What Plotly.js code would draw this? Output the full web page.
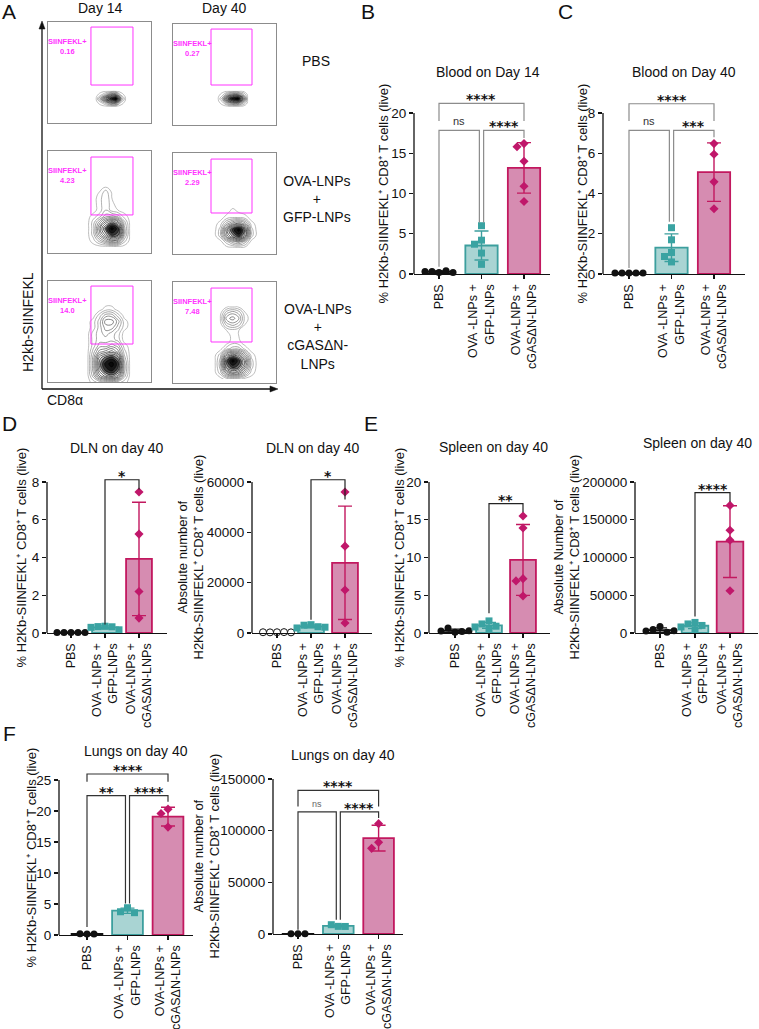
<!DOCTYPE html>
<html>
<head>
<meta charset="utf-8">
<script src="https://cdn.plot.ly/plotly-3.0.1.min.js"></script>
<style>
  html, body { margin: 0; padding: 0; background: #fff; }
  #fig { width: 759px; height: 1029px; }
</style>
</head>
<body>
<div id="fig"></div>
<script>
const W = 759, H = 1029;
const FONT = 'Liberation Sans, Arial, Helvetica, sans-serif';

// ---- panel A: flow contours (relative units 0-100, z = contour level) ----
const pbsD14X = [46, 51, 56, 61, 66, 71, 76];
const pbsD14Y = [16, 20, 24, 28, 32];
const pbsD14Z = [
  [0, 0, 0, 0, 0, 0, 0],
  [0, 1, 3, 6, 6, 1, 0],
  [0, 4, 9, 12, 14, 4, 0],
  [0, 1, 3, 6, 6, 1, 0],
  [0, 0, 0, 0, 0, 0, 0]
];
const pbsD40X = [43, 48, 53, 58, 63, 68, 73];
const pbsD40Y = [18, 22, 26, 30, 34];
const pbsD40Z = [
  [0, 0, 0, 0, 0, 0, 0],
  [0, 1, 4, 6, 6, 3, 0],
  [0, 3, 10, 13, 14, 8, 0],
  [0, 1, 4, 6, 6, 3, 0],
  [0, 0, 0, 0, 0, 0, 0]
];
const gfpD14X = [38, 44, 50, 56, 62, 68, 74, 80];
const gfpD14Y = [6, 12, 18, 24, 30, 36, 42, 48, 54, 60, 66];
const gfpD14Z = [
  [0, 0, 0, 0, 0, 0, 0, 0],
  [0, 1, 3, 5, 7, 6, 2, 0],
  [0, 2, 6, 9, 12, 11, 4, 0],
  [0, 2, 7, 11, 14, 12, 4, 0],
  [0, 2, 5, 8, 10, 8, 3, 0],
  [0, 1, 2, 4, 4, 3, 1, 0],
  [0, 0, 1, 2.5, 1, 0.5, 0, 0],
  [0, 0, 1, 2.5, 0.8, 0, 0, 0],
  [0, 0, 1, 2.5, 0.5, 0, 0, 0],
  [0, 0, 0.5, 2, 0.3, 0, 0, 0],
  [0, 0, 0, 0, 0, 0, 0, 0]
];
const gfpD40X = [40, 46, 52, 58, 64, 70, 76, 82];
const gfpD40Y = [6, 12, 18, 24, 30, 36, 42, 48];
const gfpD40Z = [
  [0, 0, 0, 0, 0, 0, 0, 0],
  [0, 0, 2, 4, 5, 3, 0, 0],
  [0, 2, 7, 10, 12, 9, 2, 0],
  [0, 2, 8, 12, 14, 10, 2, 0],
  [0, 1, 4, 6, 7, 5, 1, 0],
  [0, 0, 1, 1.5, 1.5, 1, 0, 0],
  [0, 0, 0, 1, 0.3, 0, 0, 0],
  [0, 0, 0, 0, 0, 0, 0, 0]
];
const cgasD14X = [38, 44, 50, 56, 62, 68, 74, 80];
const cgasD14Y = [0, 6, 12, 18, 24, 30, 36, 42, 48, 54, 60, 66, 72, 78];
const cgasD14Z = [
  [0, 1, 2, 3, 3, 2, 1, 0],
  [0, 3, 7, 9, 10, 8, 3, 0],
  [0, 4, 9, 12, 13, 11, 4, 0],
  [0, 4, 10, 13, 14, 12, 4, 0],
  [0, 4, 9, 11, 12, 10, 3, 0],
  [0, 3, 6, 7, 8, 6, 2, 0],
  [0, 2, 4, 4, 5, 4, 1, 0],
  [0, 2, 3, 3, 3, 2, 0, 0],
  [0, 2, 3, 4, 3, 2, 0, 0],
  [0, 1, 3, 5, 5, 3, 1, 0],
  [0, 1, 3, 6, 6, 4, 1, 0],
  [0, 0, 2, 4, 4, 2, 0, 0],
  [0, 0, 0, 1, 1, 0, 0, 0],
  [0, 0, 0, 0, 0, 0, 0, 0]
];
const cgasD40X = [40, 46, 52, 58, 64, 70, 76, 82];
const cgasD40Y = [4, 10, 16, 22, 28, 34, 40, 46, 52, 58, 64, 70, 76];
const cgasD40Z = [
  [0, 0, 1, 1, 1, 0, 0, 0],
  [0, 2, 6, 8, 7, 4, 1, 0],
  [0, 3, 10, 12, 11, 7, 2, 0],
  [0, 3, 11, 14, 12, 8, 2, 0],
  [0, 2, 7, 9, 8, 5, 1, 0],
  [0, 0, 2, 3, 3, 1, 0, 0],
  [0, 0, 0, 1.2, 0.8, 0, 0, 0],
  [0, 0, 0, 0.8, 0.5, 0, 0, 0],
  [0, 0, 0.5, 1, 0.5, 0, 0, 0],
  [0, 0, 3, 4, 3, 0.5, 0, 0],
  [0, 0.5, 5, 6, 4.5, 1, 0, 0],
  [0, 0, 3, 4, 3, 0.5, 0, 0],
  [0, 0, 0, 0.5, 0, 0, 0, 0]
];
const gatePct = ['0.16', '0.27', '4.23', '2.29', '14.0', '7.48'];

// ---- bar panels: one value per mouse ----
const grupos = ['PBS', 'OVA -LNPs +<br>GFP-LNPs', 'OVA-LNPs +<br>cGASΔN-LNPs'];

const bloodD14Pbs = [0.2, 0.3, 0.4, 0.3, 0.2];
const bloodD14Gfp = [6.0, 4.2, 3.7, 2.6, 1.2];
const bloodD14Cgas = [16.2, 15.8, 14.0, 10.9, 9.0];

const bloodD40Pbs = [0.05, 0.05, 0.05, 0.05, 0.05];
const bloodD40Gfp = [2.3, 1.7, 1.07, 0.87, 0.6];
const bloodD40Cgas = [6.48, 5.95, 4.58, 3.24];

const dlnPctPbs = [0.03, 0.03, 0.03, 0.03, 0.03];
const dlnPctGfp = [0.36, 0.34, 0.33, 0.3, 0.17];
const dlnPctCgas = [7.47, 5.24, 2.2, 0.79];

const dlnAbsPbs = [300, 250, 350, 300, 250];
const dlnAbsGfp = [3300, 3100, 2500, 2000, 2300];
const dlnAbsCgas = [56000, 34500, 17100, 4000];

const spleenPctPbs = [0.1, 0.65, 0.2, 0.25, 0.3];
const spleenPctGfp = [1.6, 1.2, 0.9, 0.8, 0.6];
const spleenPctCgas = [15.5, 13.9, 7.2, 6.9, 4.9];

const spleenAbsPbs = [8500, 4500, 1000, 2500, 3000];
const spleenAbsGfp = [14000, 12000, 10000, 8000, 4000];
const spleenAbsCgas = [169000, 136000, 123000, 56000];

const lungPctPbs = [0.15, 0.2, 0.15];
const lungPctGfp = [4.4, 3.75, 3.6];
const lungPctCgas = [20.3, 19.6, 17.4];

const lungAbsPbs = [150, 200, 150];
const lungAbsGfp = [7400, 9000, 7300];
const lungAbsCgas = [106800, 88700, 82900];

// ---- styles ----
const estilos = [
  { fill: 'rgba(255,255,255,0)', line: '#111', mk: '#111', sym: 'circle', size: 7 },
  { fill: '#a9d4d3', line: '#3c9f9e', mk: '#3aa3a2', sym: 'square', size: 7 },
  { fill: '#d68cb1', line: '#c2185f', mk: '#c0176a', sym: 'diamond', size: 7 }
];
const pctTitle = '% H2Kb-SIINFEKL⁺ CD8⁺ T cells (live)';
const absTitle = 'Absolute number of<br>H2Kb-SIINFEKL⁺ CD8⁺ T cells (live)';
const absTitleN = 'Absolute Number of<br>H2Kb-SIINFEKL⁺ CD8⁺ T cells (live)';

// layout in pixels: L/R = x axis ends, c0 = first bar centre, s = px per group,
// Y0 = px of zero, YT = px of top tick T, top = range top (room for brackets),
// ytx = x of the y title; brackets: [x0, x1, yTop, yLeg0, yLeg1, label]
const paneles = [
  { n: 7, L: 414, R: 550, c0: 439, s: 42.5, Y0: 274, YT: 113, T: 20, top: 22, ticks: [0, 5, 10, 15, 20],
    data: [bloodD14Pbs, bloodD14Gfp, bloodD14Cgas], title: 'Blood on Day 14', tx: 488, ty: 72, ytitle: pctTitle, ytx: 383,
    bcol: '#8c8c8c', brackets: [[0, 2, 21.2, 19.0, 19.0, '****'], [0, 0.95, 17.85, 0.9, 6.4, 'ns'], [1.05, 2, 17.85, 6.4, 16.9, '****']] },
  { n: 8, L: 603, R: 745, c0: 629, s: 42.5, Y0: 274, YT: 113, T: 8, top: 8.8, ticks: [0, 2, 4, 6, 8],
    data: [bloodD40Pbs, bloodD40Gfp, bloodD40Cgas], title: 'Blood on Day 40', tx: 684, ty: 72, ytitle: pctTitle, ytx: 582,
    bcol: '#8c8c8c', brackets: [[0, 2, 8.46, 7.6, 7.6, '****'], [0, 0.95, 7.14, 0.3, 2.6, 'ns'], [1.05, 2, 7.14, 2.6, 6.8, '***']] },
  { n: 9, L: 47, R: 167, c0: 71, s: 34, Y0: 633, YT: 482, T: 8, top: 8.9, ticks: [0, 2, 4, 6, 8],
    data: [dlnPctPbs, dlnPctGfp, dlnPctCgas], title: 'DLN on day 40', tx: 117, ty: 448, ytitle: pctTitle, ytx: 21,
    bcol: '#222', brackets: [[1, 2, 8.12, 0.45, 7.6, '*']] },
  { n: 10, L: 252, R: 372, c0: 277, s: 34, Y0: 633, YT: 482, T: 60000, top: 66000, ticks: [0, 20000, 40000, 60000],
    data: [dlnAbsPbs, dlnAbsGfp, dlnAbsCgas], title: 'DLN on day 40', tx: 313, ty: 448, ytitle: absTitle, ytx: 190, openPbs: true,
    bcol: '#222', brackets: [[1, 2, 60900, 5300, 53000, '*']] },
  { n: 11, L: 429, R: 550, c0: 455, s: 34, Y0: 633, YT: 482, T: 20, top: 20.5, ticks: [0, 5, 10, 15, 20],
    data: [spleenPctPbs, spleenPctGfp, spleenPctCgas], title: 'Spleen on day 40', tx: 493, ty: 447, ytitle: pctTitle, ytx: 399,
    bcol: '#222', brackets: [[1, 2, 17.14, 2.6, 16.0, '**']] },
  { n: 12, L: 635, R: 758, c0: 660, s: 35, Y0: 633, YT: 482, T: 200000, top: 205000, ticks: [0, 50000, 100000, 150000, 200000],
    data: [spleenAbsPbs, spleenAbsGfp, spleenAbsCgas], title: 'Spleen on day 40', tx: 697, ty: 443, ytitle: absTitleN, ytx: 566,
    bcol: '#222', brackets: [[1, 2, 186000, 22000, 174000, '****']] },
  { n: 13, L: 59, R: 193, c0: 87, s: 40.5, Y0: 935, YT: 780, T: 25, top: 27, ticks: [0, 5, 10, 15, 20, 25],
    data: [lungPctPbs, lungPctGfp, lungPctCgas], title: 'Lungs on day 40', tx: 136, ty: 751, ytitle: pctTitle, ytx: 31,
    bcol: '#333', brackets: [[0, 2, 25.97, 24.7, 24.7, '****'], [0, 0.95, 22.47, 1.3, 5.1, '**'], [1.05, 2, 22.47, 5.1, 21.5, '****']] },
  { n: 14, L: 273, R: 403, c0: 298, s: 40.3, Y0: 934, YT: 779, T: 150000, top: 152000, ticks: [0, 50000, 100000, 150000],
    data: [lungAbsPbs, lungAbsGfp, lungAbsCgas], title: 'Lungs on day 40', tx: 343, ty: 755, ytitle: absTitle, ytx: 206,
    bcol: '#333', smallNs: true, brackets: [[0, 2, 139000, 123500, 123500, '****'], [0, 0.95, 118100, 4200, 13800, 'ns'], [1.05, 2, 118100, 13800, 112300, '****']] }
];

function mean(a) { return a.reduce((t, v) => t + v, 0) / a.length; }
function sd(a) {
  const m = mean(a);
  return Math.sqrt(a.reduce((t, v) => t + (v - m) * (v - m), 0) / (a.length - 1));
}

// small beeswarm: horizontal offsets (px) so dots don't overlap
function swarm(vals, pxPerY, d) {
  const placed = [];
  return vals.map(v => {
    const yp = v * pxPerY;
    let off = 0;
    for (let k = 0; k < 40; k++) {
      const cands = k === 0 ? [0] : [-k * d / 2, k * d / 2];
      const ok = cands.find(c => placed.every(p => Math.hypot(p[0] - c, p[1] - yp) >= d));
      if (ok !== undefined) { off = ok; break; }
    }
    placed.push([off, yp]);
    return off;
  });
}

// paper position from pixels, always centred (auto anchors shift things otherwise)
function P(xpx, ypx) {
  return { x: xpx / W, y: 1 - ypx / H, xref: 'paper', yref: 'paper', xanchor: 'center', yanchor: 'middle' };
}
function px(x) { return (x / W).toFixed(5); }
function py(y) { return (1 - y / H).toFixed(5); }
function sfx(n) { return n === 1 ? '' : String(n); }

const traces = [];
const layout = {
  width: W, height: H,
  margin: { l: 0, r: 0, t: 0, b: 0 },
  paper_bgcolor: '#fff', plot_bgcolor: 'rgba(0,0,0,0)',
  showlegend: false, barmode: 'overlay',
  font: { family: FONT, color: '#111' },
  annotations: [], shapes: []
};

// ---- panel A ----
const flowBoxes = [[48, 151, 22, 123], [173, 276, 24, 125], [48, 151, 151, 253], [173, 276, 153, 254], [48, 151, 281, 382], [173, 276, 282, 383]];
const gates = [[41.7, 82.5, 37.6, 95], [36.9, 76.7, 39.6, 95], [41.7, 82.5, 37.3, 94.1], [36.9, 76.7, 40.6, 94], [41.7, 82.5, 37.6, 95], [36.9, 76.7, 40.6, 94]];
const flowData = [
  [pbsD14X, pbsD14Y, pbsD14Z], [pbsD40X, pbsD40Y, pbsD40Z],
  [gfpD14X, gfpD14Y, gfpD14Z], [gfpD40X, gfpD40Y, gfpD40Z],
  [cgasD14X, cgasD14Y, cgasD14Z], [cgasD40X, cgasD40Y, cgasD40Z]
];

flowData.forEach((fd, i) => {
  const n = i + 1, b = flowBoxes[i], g = gates[i];
  // dark core (fill) + contour lines on top
  traces.push({
    type: 'contour', x: fd[0], y: fd[1], z: fd[2],
    xaxis: 'x' + sfx(n), yaxis: 'y' + sfx(n),
    showscale: false, autocontour: false, zmin: 6, zmax: 14,
    contours: { start: 7.5, end: 14.5, size: 1, coloring: 'fill' },
    colorscale: [[0, 'rgba(255,255,255,0)'], [0.2, 'rgba(255,255,255,0)'], [0.5, 'rgba(60,60,60,0.55)'], [1, 'rgba(10,10,10,0.95)']],
    line: { width: 0, smoothing: 1.3 },
    hoverinfo: 'skip'
  });
  traces.push({
    type: 'contour', x: fd[0], y: fd[1], z: fd[2],
    xaxis: 'x' + sfx(n), yaxis: 'y' + sfx(n),
    showscale: false, autocontour: false, zmin: 0, zmax: 14,
    contours: { start: 0.5, end: 14.5, size: 1, coloring: 'lines' },
    colorscale: [[0, '#a0a0a0'], [0.25, '#6e6e6e'], [0.55, '#2a2a2a'], [1, '#000']],
    line: { width: 0.7, smoothing: 1.3 },
    hoverinfo: 'skip'
  });
  const axBase = {
    range: [0, 100], showgrid: false, zeroline: false, showticklabels: false, ticks: '',
    showline: true, mirror: true, linecolor: '#8c8c8c', linewidth: 1.2, fixedrange: true
  };
  layout['xaxis' + sfx(n)] = Object.assign({}, axBase, { domain: [b[0] / W, b[1] / W], anchor: 'y' + sfx(n) });
  layout['yaxis' + sfx(n)] = Object.assign({}, axBase, { domain: [1 - b[3] / H, 1 - b[2] / H], anchor: 'x' + sfx(n) });
  layout.shapes.push({
    type: 'rect', xref: 'x' + sfx(n), yref: 'y' + sfx(n),
    x0: g[0], x1: g[1], y0: g[2], y1: g[3], line: { color: '#ff33ff', width: 1 }
  });
  layout.annotations.push({
    xref: 'x' + sfx(n), yref: 'y' + sfx(n), x: 19, y: 76, showarrow: false,
    xanchor: 'center', yanchor: 'middle',
    text: '<b>SIINFEKL+<br>' + gatePct[i] + '</b>', align: 'center',
    font: { size: 7.5, color: '#ff33ff', family: FONT }
  });
});

// axis arrows for A (lines + heads)
layout.shapes.push({ type: 'line', xref: 'paper', yref: 'paper', x0: 42 / W, x1: 42 / W, y0: 1 - 389 / H, y1: 1 - 26 / H, line: { color: '#111', width: 1.3 } });
layout.shapes.push({ type: 'line', xref: 'paper', yref: 'paper', x0: 42 / W, x1: 272 / W, y0: 1 - 389 / H, y1: 1 - 389 / H, line: { color: '#111', width: 1.3 } });
layout.shapes.push({ type: 'path', xref: 'paper', yref: 'paper', fillcolor: '#111', line: { color: '#111', width: 0.5 },
  path: `M ${px(42)},${py(21)} L ${px(39)},${py(29)} L ${px(45)},${py(29)} Z` });
layout.shapes.push({ type: 'path', xref: 'paper', yref: 'paper', fillcolor: '#111', line: { color: '#111', width: 0.5 },
  path: `M ${px(278)},${py(389)} L ${px(270)},${py(386)} L ${px(270)},${py(392)} Z` });

const textos = [
  [100, 8, 'Day 14', 14, 0], [224, 8, 'Day 40', 14, 0],
  [316, 61, 'PBS', 14, 0], [317, 199, 'OVA-LNPs<br>+<br>GFP-LNPs', 14, 0],
  [317, 337, 'OVA-LNPs<br>+<br>cGASΔN-<br>LNPs', 14, 0],
  [28, 322, 'H2kb-SIINFEKL', 14, -90], [65, 400, 'CD8α', 14, 0],
  [9, 12, 'A', 21, 0], [368, 12, 'B', 21, 0], [565, 12, 'C', 21, 0],
  [9, 423, 'D', 21, 0], [371, 423, 'E', 21, 0], [9, 733, 'F', 21, 0]
];
textos.forEach(t => {
  layout.annotations.push(Object.assign(P(t[0], t[1]), {
    text: t[2], showarrow: false, textangle: t[4], align: 'center',
    font: { size: t[3], color: '#111', family: FONT }
  }));
});

// ---- bar panels ----
paneles.forEach(p => {
  const xa = 'x' + p.n, ya = 'y' + p.n;
  const pxY = (p.Y0 - p.YT) / p.T;
  const topPx = p.Y0 - p.top * pxY;

  p.data.forEach((vals, g) => {
    const st = estilos[g];
    traces.push({
      type: 'bar', x: [g], y: [mean(vals)], width: 0.76, xaxis: xa, yaxis: ya,
      marker: { color: st.fill, line: { color: st.line, width: 1.8 } },
      error_y: { type: 'data', array: [sd(vals)], visible: true, color: st.line, thickness: 1.4, width: 7 },
      hoverinfo: 'skip'
    });
    const offs = swarm(vals, pxY, 7);
    const open = g === 0 && p.openPbs;
    traces.push({
      type: 'scatter', mode: 'markers', xaxis: xa, yaxis: ya, cliponaxis: false,
      x: vals.map((v, i) => g + offs[i] / p.s), y: vals,
      marker: {
        symbol: st.sym, size: st.size, color: open ? '#fff' : st.mk,
        line: { color: open ? '#111' : st.mk, width: open ? 1 : 0 }
      },
      hoverinfo: 'skip'
    });
  });

  layout['xaxis' + p.n] = {
    domain: [p.L / W, p.R / W], anchor: ya,
    range: [(p.L - p.c0) / p.s, (p.R - p.c0) / p.s],
    tickvals: [0, 1, 2], ticktext: grupos, tickangle: -90,
    tickfont: { size: 12.5, family: FONT, color: '#111' },
    ticks: 'outside', ticklen: 4, tickwidth: 1.3, tickcolor: '#111',
    showline: true, linecolor: '#111', linewidth: 1.3,
    showgrid: false, zeroline: false, fixedrange: true
  };
  layout['yaxis' + p.n] = {
    domain: [1 - p.Y0 / H, 1 - topPx / H], anchor: xa,
    range: [0, p.top], tickvals: p.ticks, tickformat: 'd',
    tickfont: { size: 13.5, family: FONT, color: '#111' },
    ticks: 'outside', ticklen: 4, tickwidth: 1.3, tickcolor: '#111',
    showline: false, showgrid: false, zeroline: false, fixedrange: true
  };
  // y axis line only up to the top tick
  layout.shapes.push({
    type: 'line', xref: xa + ' domain', yref: ya, x0: 0, x1: 0, y0: 0, y1: p.T,
    line: { color: '#111', width: 1.3 }
  });
  // y title, centred on the drawn axis
  layout.annotations.push(Object.assign(P(p.ytx, (p.Y0 + p.YT) / 2), {
    text: p.ytitle, showarrow: false, textangle: -90, align: 'center',
    font: { size: 13, color: '#111', family: FONT }
  }));

  p.brackets.forEach(br => {
    layout.shapes.push({
      type: 'path', xref: xa, yref: ya,
      path: `M ${br[0]},${br[3]} L ${br[0]},${br[2]} L ${br[1]},${br[2]} L ${br[1]},${br[4]}`,
      line: { color: p.bcol, width: 1.2 }
    });
    const ns = br[5] === 'ns';
    layout.annotations.push({
      xref: xa, yref: ya, x: (br[0] + br[1]) / 2, y: br[2], xanchor: 'center', yanchor: 'bottom',
      text: ns ? 'ns' : '<b>' + br[5] + '</b>', showarrow: false,
      yshift: ns ? 1 : -6,
      font: ns ? { size: p.smallNs ? 9 : 11, color: p.smallNs ? '#666' : '#333', family: FONT }
               : { size: 14, color: '#111', family: 'DejaVu Sans, sans-serif' }
    });
  });

  layout.annotations.push(Object.assign(P(p.tx, p.ty), {
    text: p.title, showarrow: false, font: { size: 14, color: '#111', family: FONT }
  }));
});

Plotly.newPlot('fig', traces, layout, { staticPlot: true });
</script>
</body>
</html>
